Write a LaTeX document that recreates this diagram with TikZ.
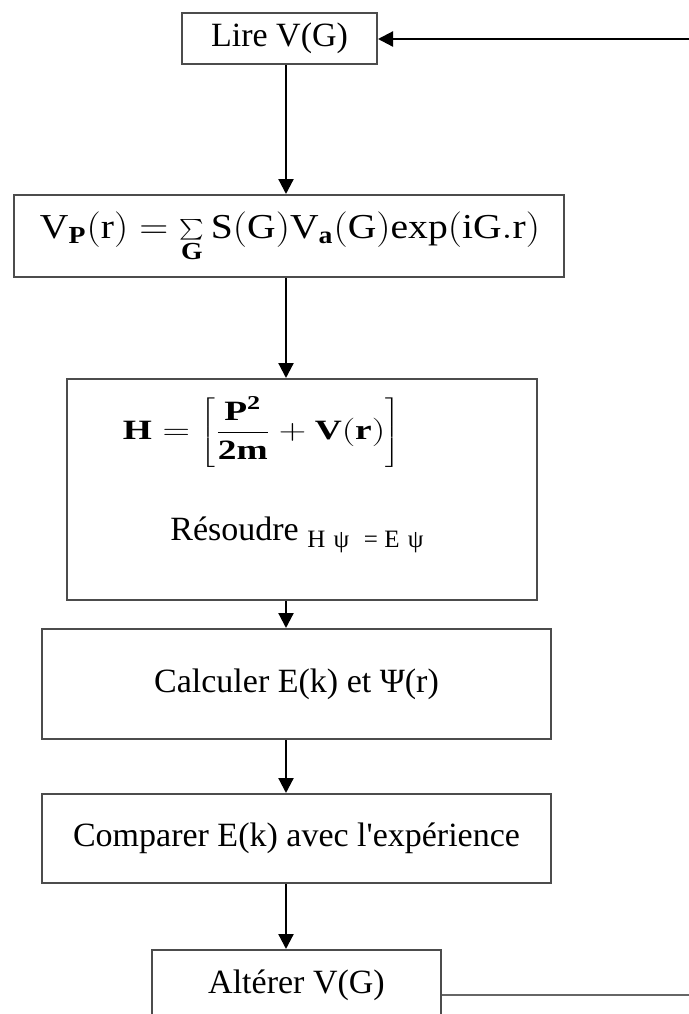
\documentclass[tikz,border=0pt]{standalone}
\usepackage{fontspec}
\setmainfont{Liberation Serif}[Ligatures=TeXOff]
\usetikzlibrary{arrows.meta}
\begin{document}
\begin{tikzpicture}[x=0.5pt,y=-0.5pt,
  box/.style={draw=black!70, line width=1pt, inner sep=0pt, font=\fontsize{17}{20}\selectfont},
  txt/.style={inner sep=0pt, font=\fontsize{17}{20}\selectfont},
  arr/.style={draw=black, line width=1.1pt, -{Triangle[length=7.5pt,width=7.5pt]}},
  fbline/.style={draw=black!60, line width=0.9pt}]
\useasboundingbox (0,0) rectangle (689,1014);
\clip (0,0) rectangle (689,1014);
\coordinate (ax) at (286,0);
\coordinate (ft) at (689,39);
\coordinate (fb) at (689,995);
\node[box, minimum width=97.5pt, minimum height=25.5pt] (b1) at (279.5,38.5) {Lire V(G)};
\node[box, minimum width=275pt, minimum height=41pt] (b2) at (289,236) {};
\node[txt] (f2) at (290,237) {\resizebox*{250pt}{25pt}{$\mathrm{V_{\mathbf{P}}\Bigl(r\Bigr) = \sum\limits_{\mathbf{G}} S\Bigl(G\Bigr)V_{\mathbf{a}}\Bigl(G\Bigr)exp\Bigl(iG.r\Bigr)}$}};
\node[box, minimum width=235pt, minimum height=110.5pt] (b3) at (302,489.5) {};
\node[txt] (f3) at (261.5,432) {\resizebox*{138.5pt}{35pt}{$\displaystyle\mathbf{H} = \left[\frac{\mathbf{P}^{\mathbf{2}}}{\mathbf{2m}} + \mathbf{V(r)}\right]$}};
\node[txt, anchor=base west] (r3) at (170,540) {Résoudre \raisebox{-3.5pt}{\fontsize{12.5}{14}\selectfont H\,\,ψ \,\,= E\,\,ψ}};
\node[box, minimum width=254.5pt, minimum height=55pt] (b4) at (296.5,684) {Calculer E(k) et Ψ(r)};
\node[box, minimum width=254.5pt, minimum height=44.5pt] (b5) at (296.5,838.5) {Comparer E(k) avec l'expérience};
\node[box, minimum width=144.5pt, minimum height=35pt] (b6) at (296.5,985) {Altérer V(G)};
\draw[arr] (b1.south -| ax) -- (b2.north -| ax);
\draw[arr] (b2.south -| ax) -- (b3.north -| ax);
\draw[arr] (b3.south -| ax) -- (b4.north -| ax);
\draw[arr] (b4.south -| ax) -- (b5.north -| ax);
\draw[arr] (b5.south -| ax) -- (b6.north -| ax);
\draw[arr] (ft) -- (b1.east |- ft);
\draw[fbline] (b6.east |- fb) -- (fb);
\end{tikzpicture}
\end{document}
